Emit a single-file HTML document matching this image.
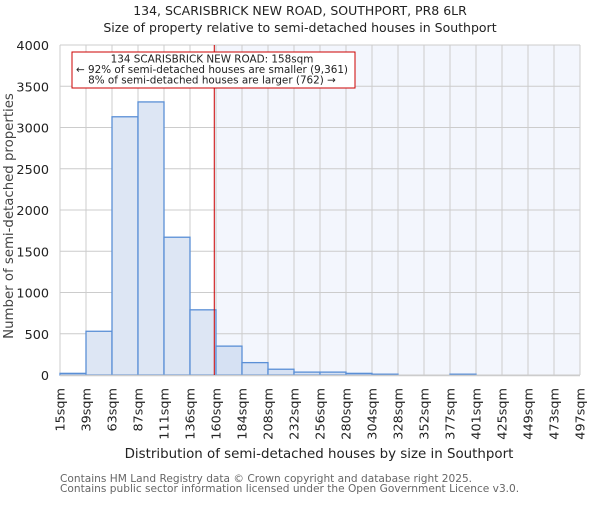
<!DOCTYPE html>
<html><head><meta charset="utf-8"><style>
body{margin:0;background:#fff;}
svg text{font-family:"DejaVu Sans","Liberation Sans",sans-serif;}
</style></head><body>
<svg id="chart" width="600" height="500" viewBox="0 0 600 500" xmlns="http://www.w3.org/2000/svg">
<text x="300" y="15" text-anchor="middle" font-size="12.5" fill="#222">134, SCARISBRICK NEW ROAD, SOUTHPORT, PR8 6LR</text>
<text x="300" y="32" text-anchor="middle" font-size="12.5" fill="#222">Size of property relative to semi-detached houses in Southport</text>
<rect id="shade" y="45" height="330" fill="#f3f6fd"/>
<g id="grid"></g>
<g id="bars"></g>
<line x1="60" x2="580" y1="375.5" y2="375.5" stroke="#ccc" stroke-width="1.5"/>
<line id="marker" y1="45" y2="375" stroke="#cc0000" stroke-width="1"/>
<g id="yticks"></g>
<g id="xticks"></g>
<rect x="72" y="52" width="283" height="36" fill="#fff" stroke="#cc0000" stroke-width="1"/>
<text x="212" y="62.5" text-anchor="middle" font-size="10.4" fill="#222">134 SCARISBRICK NEW ROAD: 158sqm</text>
<text x="212" y="73" text-anchor="middle" font-size="10.4" fill="#222">← 92% of semi-detached houses are smaller (9,361)</text>
<text x="212" y="83.5" text-anchor="middle" font-size="10.4" fill="#222">8% of semi-detached houses are larger (762) →</text>
<text transform="translate(13,216) rotate(-90)" text-anchor="middle" font-size="13.3" fill="#444">Number of semi-detached properties</text>
<text x="319" y="458" text-anchor="middle" font-size="13.4" fill="#222">Distribution of semi-detached houses by size in Southport</text>
<text x="60" y="482" font-size="10.6" fill="#666">Contains HM Land Registry data © Crown copyright and database right 2025.</text>
<text x="60" y="492" font-size="10.6" fill="#666">Contains public sector information licensed under the Open Government Licence v3.0.</text>
</svg>
<script>
const binLabels=["15sqm","39sqm","63sqm","87sqm","111sqm","136sqm","160sqm","184sqm","208sqm","232sqm","256sqm","280sqm","304sqm","328sqm","352sqm","377sqm","401sqm","425sqm","449sqm","473sqm","497sqm"];
const counts=[20,530,3130,3310,1670,790,350,150,70,35,35,20,10,0,0,10,0,0,0,0];
const yTicks=[0,500,1000,1500,2000,2500,3000,3500,4000];
const binStart=15, binWidth=24.1, markerValue=158;
const X0=60,X1=580,Y0=375,Y1=45,YMAX=4000;
const n=counts.length;
const xs=v=>X0+(v-binStart)/(binWidth*n)*(X1-X0);
const xi=i=>X0+i*(X1-X0)/n;
const ys=v=>Y0-v/YMAX*(Y0-Y1);
const NS="http://www.w3.org/2000/svg";
function mk(tag,parent,attrs){const e=document.createElementNS(NS,tag);for(const k in attrs)e.setAttribute(k,attrs[k]);parent.appendChild(e);return e;}
const mx=xs(markerValue);
const sh=document.getElementById('shade');sh.setAttribute('x',mx);sh.setAttribute('width',X1-mx);
const mk2=document.getElementById('marker');mk2.setAttribute('x1',mx);mk2.setAttribute('x2',mx);
const grid=document.getElementById('grid');
for(let i=0;i<=n;i++){const l=mk('line',grid,{x1:xi(i),x2:xi(i),y1:Y1,y2:Y0,stroke:'#ccc','stroke-width':1});

}
const yt=document.getElementById('yticks');
yTicks.forEach(v=>{const l=mk('line',grid,{x1:X0,x2:X1,y1:ys(v),y2:ys(v),stroke:'#ccc','stroke-width':1});


const t=mk('text',yt,{x:X0-11,y:ys(v)+5,'text-anchor':'end','font-size':12.8,fill:'#222'});t.textContent=v;

});
const bars=document.getElementById('bars');
counts.forEach((c,i)=>{if(c<=0)return;const r=mk('rect',bars,{x:xi(i),y:ys(c),width:xi(i+1)-xi(i),height:Y0-ys(c),fill:xi(i)>=mx?'#d6e1f3':'#dde6f4',stroke:'#5a8fd6','stroke-width':1.3});

});
const xt=document.getElementById('xticks');
binLabels.forEach((lab,i)=>{const x=xi(i);const t=mk('text',xt,{transform:`translate(${x+4.5},388) rotate(-90)`,'text-anchor':'end','font-size':12.8,fill:'#222'});t.textContent=lab;

});
</script>
</body></html>
